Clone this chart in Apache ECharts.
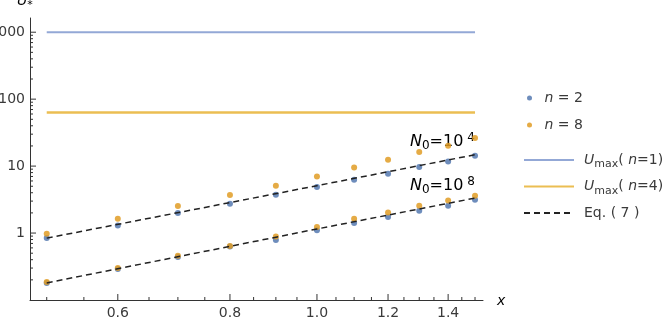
<!DOCTYPE html>
<html><head><meta charset="utf-8">
<script src="https://cdn.jsdelivr.net/npm/echarts@6/dist/echarts.min.js"></script>
<style>html,body{margin:0;padding:0;background:#fff}#c{width:667px;height:322px}</style>
</head><body><div id="c"></div>
<script>
// ---- data ----
const xValues = [0.5, 0.6, 0.7, 0.8, 0.9, 1.0, 1.1, 1.2, 1.3, 1.4, 1.5];
const n2Upper = [0.84, 1.30, 1.99, 2.74, 3.73, 4.86, 6.25, 7.67, 9.67, 11.7, 14.3];
const n8Upper = [0.98, 1.63, 2.53, 3.69, 5.08, 7.0, 9.5, 12.4, 16.2, 20.1, 26.2];
const n2Lower = [0.18, 0.29, 0.44, 0.63, 0.79, 1.10, 1.41, 1.73, 2.15, 2.55, 3.14];
const n8Lower = [0.185, 0.30, 0.46, 0.64, 0.89, 1.23, 1.63, 2.03, 2.55, 3.07, 3.60];
const eqX = [0.5, 1.0, 1.5];
const eqUpper = [0.84, 5.1, 14.8];
const eqLower = [0.18, 1.15, 3.33];
const uMaxX = [0.5, 1.5];
const uMaxN1 = 1000;
const uMaxN4 = 63;
const xRange = [0.479, 1.531];
const yRange = [0.1, 1630];
const xMajorTicks = [0.6, 0.8, 1.0, 1.2, 1.4];
const xMajorLabels = ['0.6', '0.8', '1.0', '1.2', '1.4'];
const xMinorTicks = [0.5, 0.55, 0.65, 0.7, 0.75, 0.85, 0.9, 0.95, 1.05, 1.1, 1.15, 1.25, 1.3, 1.35, 1.45, 1.5];
const yMajorTicks = [1, 10, 100, 1000];
const yMajorLabels = ['1', '10', '100', '1000'];
const yMinorTicks = [0.2, 0.3, 0.4, 0.5, 0.6, 0.7, 0.8, 0.9,
  2, 3, 4, 5, 6, 7, 8, 9,
  20, 30, 40, 50, 60, 70, 80, 90,
  200, 300, 400, 500, 600, 700, 800, 900];

const FONT = "'DejaVu Sans', Arial, sans-serif";
const TXT = '#3a3a3a';
const BLUE = '#5E81B5', ORANGE = '#E19C24';
const BLUE_LINE = '#93A8D6', ORANGE_LINE = '#EBBE52';

const pair = (xs, ys) => xs.map((x, i) => [x, ys[i]]);

function tickSeries(vals, axis, len) {
  return {
    type: 'custom', coordinateSystem: 'cartesian2d', silent: true, z: 5, clip: false,
    data: vals.map(v => axis === 'x' ? [v, yRange[0]] : [xRange[0], v]),
    renderItem: (params, api) => {
      const p = api.coord([api.value(0), api.value(1)]);
      const shape = axis === 'x'
        ? { x1: p[0], y1: p[1], x2: p[0], y2: p[1] - len }
        : { x1: p[0], y1: p[1], x2: p[0] + len, y2: p[1] };
      return { type: 'line', shape, style: { stroke: '#333', lineWidth: 1 } };
    }
  };
}
function labelSeries(vals, labels, axis) {
  return {
    type: 'custom', coordinateSystem: 'cartesian2d', silent: true, z: 5, clip: false,
    data: vals.map(v => axis === 'x' ? [v, yRange[0]] : [xRange[0], v]),
    renderItem: (params, api) => {
      const p = api.coord([api.value(0), api.value(1)]);
      const t = labels[params.dataIndex];
      return axis === 'x'
        ? { type: 'text', style: { text: t, x: p[0], y: p[1] + 6, align: 'center', verticalAlign: 'top', fill: TXT, fontSize: 14, fontFamily: FONT } }
        : { type: 'text', style: { text: t, x: p[0] - 5, y: p[1], align: 'right', verticalAlign: 'middle', fill: TXT, fontSize: 14, fontFamily: FONT } };
    }
  };
}

function makeRich(fs, sfs) {
  return {
    i: { fontStyle: 'italic', fontSize: fs, fontFamily: FONT, color: TXT, lineHeight: 20, verticalAlign: 'middle' },
    r: { fontSize: fs, fontFamily: FONT, color: TXT, lineHeight: 20, verticalAlign: 'middle' },
    sub: { fontSize: sfs, fontFamily: FONT, color: TXT, lineHeight: 20, verticalAlign: 'bottom' },
    sup: { fontSize: sfs, fontFamily: FONT, color: TXT, lineHeight: 20, verticalAlign: 'top' }
  };
}
const richLegend = makeRich(14, 11);
const richAnn = makeRich(16, 12);

const legendText = {
  'n = 2': '{i|n}{r| = 2}',
  'n = 8': '{i|n}{r| = 8}',
  'Umax(n=1)': '{i|U}{sub|max}{r|( }{i|n}{r|=1)}',
  'Umax(n=4)': '{i|U}{sub|max}{r|( }{i|n}{r|=4)}',
  'Eq. (7)': '{r|Eq. ( 7 )}'
};

const chart = echarts.init(document.getElementById('c'), null, { renderer: 'canvas' });
chart.setOption({
  animation: false,
  backgroundColor: '#fff',
  grid: { left: 30, right: 184, top: 18, bottom: 22, containLabel: false },
  xAxis: {
    type: 'log', min: xRange[0], max: xRange[1],
    axisLine: { show: true, onZero: false, lineStyle: { color: '#333', width: 1 } },
    axisTick: { show: false }, axisLabel: { show: false }, splitLine: { show: false }, minorTick: { show: false }
  },
  yAxis: {
    type: 'log', min: yRange[0], max: yRange[1],
    axisLine: { show: true, onZero: false, lineStyle: { color: '#333', width: 1 } },
    axisTick: { show: false }, axisLabel: { show: false }, splitLine: { show: false }, minorTick: { show: false }
  },
  legend: [
    {
      data: ['n = 2', 'n = 8'], orient: 'vertical', left: 522, top: 86,
      itemWidth: 20, itemHeight: 5, itemGap: 13, icon: 'circle',
      formatter: n => legendText[n], textStyle: { rich: richLegend }, selectedMode: false
    },
    {
      data: ['Umax(n=1)', 'Umax(n=4)', 'Eq. (7)'], orient: 'vertical', left: 518, top: 148,
      itemWidth: 50, itemHeight: 10, itemGap: 9.5,
      itemStyle: { opacity: 0 },
      formatter: n => legendText[n], textStyle: { rich: richLegend, padding: [0, 0, 0, 5] }, selectedMode: false
    }
  ],
  graphic: [
    { type: 'text', left: 17, top: -6, silent: true,
      style: { text: '{i|U}{sub|*}', rich: richLegend } },
    { type: 'text', left: 497, top: 294, silent: true,
      style: { text: '{i|x}', rich: richLegend } },
    { type: 'text', left: 410, top: 132, silent: true,
      style: { text: '{i|N}{sub|0}{r|=10}{sup| 4}', rich: richAnn } },
    { type: 'text', left: 410, top: 176, silent: true,
      style: { text: '{i|N}{sub|0}{r|=10}{sup| 8}', rich: richAnn } }
  ],
  series: [
    { name: 'Umax(n=1)', type: 'line', data: pair(uMaxX, [uMaxN1, uMaxN1]), symbol: 'none',
      lineStyle: { color: BLUE_LINE, width: 2 }, itemStyle: { color: BLUE_LINE }, z: 2 },
    { name: 'Umax(n=4)', type: 'line', data: pair(uMaxX, [uMaxN4, uMaxN4]), symbol: 'none',
      lineStyle: { color: ORANGE_LINE, width: 2.5 }, itemStyle: { color: ORANGE_LINE }, z: 2 },
    { name: 'n = 2', type: 'scatter', data: pair(xValues, n2Upper), symbolSize: 6,
      itemStyle: { color: BLUE, opacity: 0.9 }, z: 3 },
    { name: 'n = 2', type: 'scatter', data: pair(xValues, n2Lower), symbolSize: 6,
      itemStyle: { color: BLUE, opacity: 0.9 }, z: 3 },
    { name: 'n = 8', type: 'scatter', data: pair(xValues, n8Upper), symbolSize: 6,
      itemStyle: { color: ORANGE, opacity: 0.85 }, z: 3 },
    { name: 'n = 8', type: 'scatter', data: pair(xValues, n8Lower), symbolSize: 6,
      itemStyle: { color: ORANGE, opacity: 0.85 }, z: 3 },
    { name: 'Eq. (7)', type: 'line', data: pair(eqX, eqUpper), symbol: 'none',
      lineStyle: { color: '#222', width: 1.5, type: [6, 4] }, itemStyle: { color: '#555' }, z: 4 },
    { name: 'Eq. (7)', type: 'line', data: pair(eqX, eqLower), symbol: 'none',
      lineStyle: { color: '#222', width: 1.5, type: [6, 4] }, itemStyle: { color: '#555' }, z: 4 },
    tickSeries(xMajorTicks, 'x', 6),
    tickSeries(xMinorTicks, 'x', 3),
    tickSeries(yMajorTicks, 'y', 6),
    tickSeries(yMinorTicks, 'y', 3),
    labelSeries(xMajorTicks, xMajorLabels, 'x'),
    labelSeries(yMajorTicks, yMajorLabels, 'y')
  ]
});
</script>
</body></html>
